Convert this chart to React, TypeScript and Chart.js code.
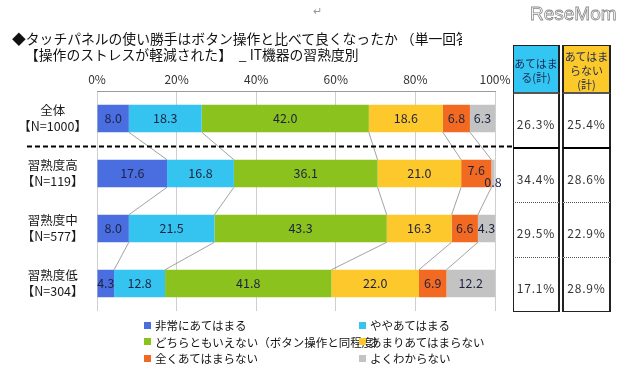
import { useEffect, useRef } from "react";
import { Chart, registerables } from "chart.js";

Chart.register(...registerables);

const FONT = "'Noto Sans CJK JP', 'Noto Sans', sans-serif";

const categories: string[][] = [
  ["全体", "【N=1000】"],
  ["習熟度高", "【N=119】"],
  ["習熟度中", "【N=577】"],
  ["習熟度低", "【N=304】"],
];

const seriesNames = [
  "非常にあてはまる",
  "ややあてはまる",
  "どちらともいえない（ボタン操作と同程度）",
  "あまりあてはまらない",
  "全くあてはまらない",
  "よくわからない",
];

const seriesColors = ["#4a6ee0", "#35c4f0", "#8cc21e", "#fdc82b", "#f26a21", "#c3c3c3"];

const veryApplies = [8.0, 17.6, 8.0, 4.3];
const somewhatApplies = [18.3, 16.8, 21.5, 12.8];
const neither = [42.0, 36.1, 43.3, 41.8];
const notReally = [18.6, 21.0, 16.3, 22.0];
const notAtAll = [6.8, 7.6, 6.6, 6.9];
const dontKnow = [6.3, 0.8, 4.3, 12.2];

const seriesValues = [veryApplies, somewhatApplies, neither, notReally, notAtAll, dontKnow];

const appliesTotal = ["26.3%", "34.4%", "29.5%", "17.1%"];
const notAppliesTotal = ["25.4%", "28.6%", "22.9%", "28.9%"];

const xTickMin = 0;
const xTickMax = 100;
const xTickStep = 20;

const titleLine1 = "◆タッチパネルの使い勝手はボタン操作と比べて良くなったか （単一回答";
const titleLine2 = "【操作のストレスが軽減された】　_ IT機器の習熟度別";
const appliesHeader = ["あてはま", "る(計)"];
const notAppliesHeader = ["あてはま", "らない", "(計)"];

const overlayPlugin = {
  id: "overlay",
  afterDatasetsDraw(chart: any) {
    const ctx = chart.ctx as CanvasRenderingContext2D;
    const metas = chart.data.datasets.map((_: any, i: number) => chart.getDatasetMeta(i));
    ctx.save();
    // series lines
    ctx.strokeStyle = "#7a7a7a";
    ctx.lineWidth = 0.7;
    for (let c = 0; c < categories.length - 1; c++) {
      for (let d = 0; d < metas.length - 1; d++) {
        const a = metas[d].data[c];
        const b = metas[d].data[c + 1];
        ctx.beginPath();
        ctx.moveTo(a.x, a.y + a.height / 2);
        ctx.lineTo(b.x, b.y - b.height / 2);
        ctx.stroke();
      }
    }
    // dashed separator
    const y0 = metas[0].data[0].y;
    const y1 = metas[0].data[1].y;
    const ySep = Math.round((y0 + y1) / 2) + 0.5;
    ctx.strokeStyle = "#000";
    ctx.lineWidth = 2;
    ctx.setLineDash([5, 3]);
    ctx.beginPath();
    ctx.moveTo(27, ySep);
    ctx.lineTo(513, ySep);
    ctx.stroke();
    ctx.setLineDash([]);
    // labels
    ctx.font = `12.5px ${FONT}`;
    ctx.fillStyle = "#1d2240";
    ctx.textAlign = "center";
    ctx.textBaseline = "middle";
    for (let d = 0; d < metas.length; d++) {
      for (let c = 0; c < categories.length; c++) {
        const v = seriesValues[d][c];
        const el = metas[d].data[c];
        const cx = (el.x + el.base) / 2;
        let cy = el.y;
        if (v < 2) {
          ctx.fillText(v.toFixed(1), cx, cy + 9);
          continue;
        }
        const next = seriesValues[d + 1];
        if (next && next[c] < 2) cy -= 3;
        ctx.fillText(v.toFixed(1), cx, cy);
      }
    }
    ctx.restore();
  },
};

export default function App() {
  const ref = useRef<HTMLCanvasElement | null>(null);

  useEffect(() => {
    if (!ref.current) return;
    const chart = new Chart(ref.current, {
      type: "bar",
      data: {
        labels: categories,
        datasets: seriesNames.map((name, i) => ({
          label: name,
          data: seriesValues[i],
          backgroundColor: seriesColors[i],
          borderWidth: 0,
          barPercentage: 0.5,
          categoryPercentage: 1,
        })),
      },
      options: {
        animation: false,
        responsive: false,
        devicePixelRatio: 1,
        indexAxis: "y",
        layout: { padding: { left: 0, right: 124, top: 0, bottom: 68 } },
        plugins: { legend: { display: false }, tooltip: { enabled: false } },
        scales: {
          x: {
            position: "top",
            stacked: true,
            min: xTickMin,
            max: xTickMax,
            ticks: {
              stepSize: xTickStep,
              callback: (v: any) => v + "%",
              font: { size: 12, family: FONT },
              color: "#333",
              padding: 4,
            },
            grid: { color: "#cfcfcf", drawTicks: false, lineWidth: 1 },
            border: { color: "#9a9a9a" },
            afterFit: (s: any) => {
              s.height = 91;
            },
          },
          y: {
            stacked: true,
            grid: { display: false },
            border: { display: false },
            ticks: {
              font: { size: 12.5, family: FONT, lineHeight: 1.3 },
              color: "#1a1a1a",
              crossAlign: "center",
              padding: 2,
            },
            afterFit: (s: any) => {
              s.width = 97;
            },
          },
        },
      },
      plugins: [overlayPlugin],
    } as any);
    return () => chart.destroy();
  }, []);

  const rowTops = [94, 147, 202, 257];
  const rowBottoms = [147, 202, 257, 312];

  const column = (left: number, width: number, bg: string, header: string[], values: string[], headerPad: number, bl: number, br: number) => (
    <div style={{ position: "absolute", left, top: 45, width, height: 267 }}>
      <div
        style={{
          position: "absolute",
          left: 0,
          top: 0,
          width,
          height: 49,
          background: bg,
          boxSizing: "border-box",
          borderLeft: `${bl}px solid #222`,
          borderRight: `${br}px solid #222`,
          borderTop: "1px solid #222",
          borderBottom: "2px solid #555",
          color: "#1c2a55",
          fontSize: 11,
          lineHeight: "14px",
          textAlign: "center",
          paddingTop: headerPad,
          fontFamily: FONT,
        }}
      >
        {header.map((h, i) => (
          <div key={i}>{h}</div>
        ))}
      </div>
      {values.map((v, i) => (
        <div
          key={i}
          style={{
            position: "absolute",
            left: 0,
            top: rowTops[i] - 45,
            width,
            height: rowBottoms[i] - rowTops[i],
            boxSizing: "border-box",
            borderLeft: `${bl}px solid #222`,
            borderRight: `${br}px solid #222`,
            borderTop: i === 1 ? "2px solid #000" : i > 1 ? "1px dotted #555" : "none",
            borderBottom: i === values.length - 1 ? "1px solid #222" : "none",
            display: "flex",
            alignItems: "center",
            justifyContent: "center",
            paddingTop: 5,
            fontSize: 12,
            letterSpacing: "0.8px",
            color: "#333",
            fontFamily: FONT,
          }}
        >
          {v}
        </div>
      ))}
    </div>
  );

  return (
    <div style={{ position: "absolute", left: 0, top: 0, width: 619, height: 379, background: "#fff", overflow: "hidden", fontFamily: FONT }}>
      <canvas ref={ref} width={619} height={379} style={{ position: "absolute", left: 0, top: 0, display: "block" }} />
      <div style={{ position: "absolute", left: 313, top: 2, fontSize: 11, color: "#999" }}>↵</div>
      <div
        style={{
          position: "absolute",
          left: 530,
          top: 3,
          fontSize: 19,
          fontFamily: "'Liberation Sans', sans-serif",
          color: "#fff",
          WebkitTextStroke: "0.8px #8a8a8a",
          letterSpacing: "0px",
        }}
      >
        ReseMom
      </div>
      <div style={{ position: "absolute", left: 12, top: 30, width: 450, overflow: "hidden", whiteSpace: "nowrap", fontSize: 13.8, lineHeight: "17px", color: "#111" }}>
        {titleLine1}
      </div>
      <div style={{ position: "absolute", left: 25, top: 46, whiteSpace: "nowrap", fontSize: 13.8, lineHeight: "17px", color: "#111" }}>{titleLine2}</div>
      {column(513, 47, "#33c6f2", appliesHeader, appliesTotal, 10, 1, 2)}
      {column(562, 49, "#fcc92b", notAppliesHeader, notAppliesTotal, 3, 2, 2)}
      {seriesNames.map((name, i) => {
        const col = i % 2;
        const row = Math.floor(i / 2);
        return (
          <div
            key={i}
            style={{
              position: "absolute",
              left: 144 + col * 215,
              top: 317 + row * 16.5,
              height: 16,
              display: "flex",
              alignItems: "center",
              whiteSpace: "nowrap",
              fontSize: 11.5,
              color: "#111",
            }}
          >
            <span style={{ display: "inline-block", width: 7, height: 7, background: seriesColors[i], marginRight: 4 }} />
            <span>{name}</span>
          </div>
        );
      })}
    </div>
  );
}
